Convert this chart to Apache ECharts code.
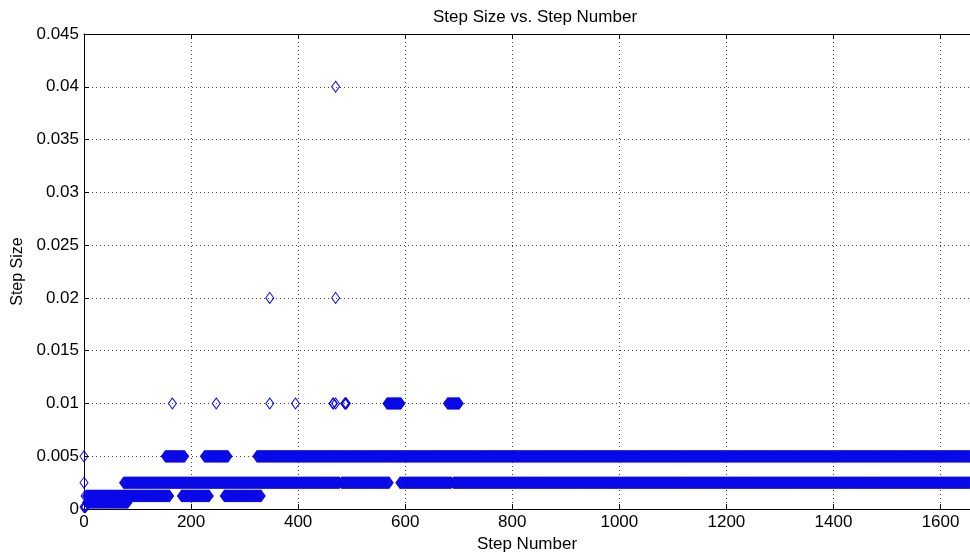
<!DOCTYPE html>
<html>
<head>
<meta charset="utf-8">
<script src="https://cdn.jsdelivr.net/npm/echarts@6/dist/echarts.min.js"></script>
<style>
html,body{margin:0;padding:0;background:#fff;}
#c{width:970px;height:558px;}
</style>
</head>
<body>
<div id="c"></div>
<script>
// Step-number runs [first, last] at which each step size appears
const runs_0_04    = [[470, 470]];
const runs_0_02    = [[347, 347], [470, 470]];
const runs_0_01    = [[165, 165], [247, 247], [347, 347], [395, 395], [465, 466], [470, 470], [487, 490], [566, 592], [679, 701]];
const runs_0_005   = [[0, 0], [152, 188], [225, 269], [323, 1655]];
const runs_0_0025  = [[0, 0], [74, 477], [481, 570], [590, 686], [690, 1655]];
const runs_0_00125 = [[2, 2], [5, 160], [182, 234], [262, 331]];
const runs_0_000625 = [[5, 82]];
const runs_0_0002  = [[0, 3]];

const stepSizeLevels = [0.04, 0.02, 0.01, 0.005, 0.0025, 0.00125, 0.000625, 0.0002];
const runsByLevel = [runs_0_04, runs_0_02, runs_0_01, runs_0_005, runs_0_0025, runs_0_00125, runs_0_000625, runs_0_0002];

const xTicks = [0, 200, 400, 600, 800, 1000, 1200, 1400, 1600];
const yTicks = [0, 0.005, 0.01, 0.015, 0.02, 0.025, 0.03, 0.035, 0.04, 0.045];

const points = [];
runsByLevel.forEach((runs, i) => {
  runs.forEach(([a, b]) => {
    for (let s = a; s <= b; s++) points.push([s, stepSizeLevels[i]]);
  });
});

const FONT = 'Liberation Sans, Arial, sans-serif';
const chart = echarts.init(document.getElementById('c'), null, {renderer: 'canvas'});
chart.setOption({
  animation: false,
  backgroundColor: '#fff',
  title: {
    text: 'Step Size vs. Step Number',
    left: 530, top: 4, textAlign: 'center',
    textStyle: {fontFamily: FONT, fontSize: 17, fontWeight: 'normal', color: '#000'}
  },
  grid: {left: 84, right: -6, top: 34, bottom: 48, show: false},
  xAxis: [{
    type: 'value', min: 0, max: 1655, interval: 200, position: 'bottom',
    name: 'Step Number', nameLocation: 'middle', nameGap: 25,
    nameTextStyle: {fontFamily: FONT, fontSize: 17, color: '#000'},
    axisLine: {show: true, onZero: false, lineStyle: {color: '#000', width: 1}},
    axisTick: {show: true, inside: true, length: 5, lineStyle: {color: '#000'}},
    axisLabel: {fontFamily: FONT, fontSize: 17, color: '#000', margin: 5,
      showMaxLabel: false,
      formatter: v => (xTicks.indexOf(v) >= 0 ? String(v) : '')},
    splitLine: {show: true, lineStyle: {color: '#444', width: 1, type: [1, 3]}}
  }, {
    type: 'value', min: 0, max: 1655, interval: 200, position: 'top',
    axisLine: {show: true, onZero: false, lineStyle: {color: '#000', width: 1}},
    axisTick: {show: true, inside: true, length: 5, lineStyle: {color: '#000'}},
    axisLabel: {show: false},
    splitLine: {show: false}
  }],
  yAxis: [{
    type: 'value', min: 0, max: 0.045, interval: 0.005,
    name: 'Step Size', nameLocation: 'middle', nameGap: 56, nameRotate: 90,
    nameTextStyle: {fontFamily: FONT, fontSize: 16, color: '#000'},
    axisLine: {show: true, onZero: false, lineStyle: {color: '#000', width: 1}},
    axisTick: {show: true, inside: true, length: 5, lineStyle: {color: '#000'}},
    axisLabel: {fontFamily: FONT, fontSize: 17, color: '#000', margin: 5,
      formatter: v => {
        const t = yTicks.find(y => Math.abs(y - v) < 1e-9);
        return t === undefined ? '' : String(t);
      }},
    splitLine: {show: true, lineStyle: {color: '#444', width: 1, type: [1, 3]}}
  }],
  series: [{
    type: 'scatter',
    xAxisIndex: 0, yAxisIndex: 0,
    data: points,
    symbol: 'diamond',
    symbolSize: [8, 11],
    large: false,
    progressive: 0,
    clip: false,
    itemStyle: {color: 'rgba(0,0,0,0)', borderColor: '#0a0ae8', borderWidth: 1, opacity: 1},
    emphasis: {disabled: true}
  }]
});
</script>
</body>
</html>
